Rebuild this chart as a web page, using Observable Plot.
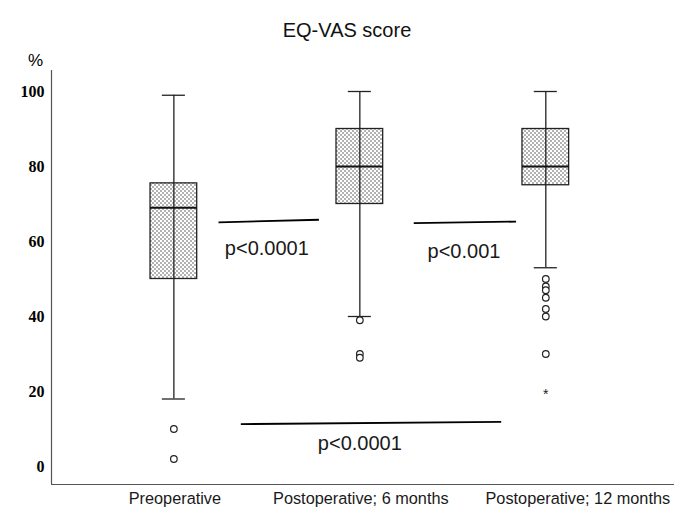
<!DOCTYPE html>
<html><head><meta charset="utf-8">
<script src="https://cdn.jsdelivr.net/npm/d3@7"></script>
<script src="https://cdn.jsdelivr.net/npm/@observablehq/plot@0.6"></script>
<style>
body{margin:0;background:#fff;}
#wrap{position:relative;width:674px;height:514px;overflow:hidden;}
#title{position:absolute;left:347px;top:18px;transform:translateX(-50%);font:20px "Liberation Sans",Arial,sans-serif;color:#111;white-space:nowrap;line-height:24px;}
#chart{position:absolute;left:0;top:50px;}
</style></head><body>
<div id="wrap"><div id="title">EQ-VAS score</div><div id="chart"></div></div>
<script>
// ---- data ----
const categories = ["Preoperative", "Postoperative; 6 months", "Postoperative; 12 months"];
const whiskerLow = [18, 40, 53];
const q1 = [50, 70, 75];
const median = [69, 80, 80];
const q3 = [75.5, 90, 90];
const whiskerHigh = [99, 100, 100];
const outliersPre = [10, 2];
const outliers6m = [39, 30, 29];
const outliers12m = [50, 48, 47, 45, 42, 40, 30];
const extremes12m = [20];
const yTicks = [0, 20, 40, 60, 80, 100];
const comparisonFrom = [0.24, 1.29, 0.36];
const comparisonTo = [0.78, 1.84, 1.76];
const comparisonLevelFrom = [65.1, 64.9, 11.3];
const comparisonLevelTo = [65.8, 65.3, 11.9];
const comparisonLabels = ["p<0.0001", "p<0.001", "p<0.0001"];
const comparisonLabelX = [0.5, 1.56, 1.0];
const comparisonLabelY = [58, 57.3, 6];

// ---- derived tables ----
const boxes = categories.map((c, i) => ({i, c, lo: whiskerLow[i], q1: q1[i], med: median[i], q3: q3[i], hi: whiskerHigh[i]}));
const outliers = [
  ...outliersPre.map(v => ({i: 0, v})),
  ...outliers6m.map(v => ({i: 1, v})),
  ...outliers12m.map(v => ({i: 2, v}))
];
const extremes = extremes12m.map(v => ({i: 2, v}));
const comps = comparisonLabels.map((label, k) => ({
  x1: comparisonFrom[k], x2: comparisonTo[k], y1: comparisonLevelFrom[k], y2: comparisonLevelTo[k],
  label, lx: comparisonLabelX[k], ly: comparisonLabelY[k]
}));
const catRows = categories.map((c, i) => ({c, i}));

const BW = 0.1255; // box half width (x units)
const CW = 0.062;  // cap half width
const sans = "Liberation Sans, Arial, sans-serif";
const ink = "#1a1a1a";

const plot = Plot.plot({
  width: 674,
  height: 464,
  marginLeft: 51,
  marginRight: 0,
  marginTop: 20,
  marginBottom: 30,
  x: {domain: [-0.658, 2.692], axis: null},
  y: {domain: [-4.8, 105.6], axis: null},
  style: {background: "white", overflow: "visible"},
  marks: [
    Plot.ruleX([-0.658], {stroke: "#555", strokeWidth: 1.2}),
    Plot.ruleY([-4.8], {stroke: "#555", strokeWidth: 1.2}),
    Plot.text(yTicks, {y: d => d, text: d => String(d), frameAnchor: "left", textAnchor: "end", dx: -7,
      fontFamily: "Liberation Serif, Times New Roman, serif", fontWeight: "bold", fontSize: 16, fill: "#000"}),
    Plot.text(["%"], {frameAnchor: "top-left", textAnchor: "middle", lineAnchor: "middle", dx: -16, dy: -10, fontFamily: sans, fontSize: 17, fill: "#000"}),
    Plot.text(catRows.slice(0, 2), {x: "i", text: "c", frameAnchor: "bottom", dy: 19, dx: 1, fontFamily: sans, fontSize: 16.3, fill: ink}),
    Plot.text(catRows.slice(2), {x: "i", text: "c", frameAnchor: "bottom", dy: 19, dx: 32, fontFamily: sans, fontSize: 16.3, fill: ink}),
    Plot.rect(boxes, {x1: d => d.i - BW, x2: d => d.i + BW, y1: "q1", y2: "q3", fill: "url(#dots)", stroke: "#222", strokeWidth: 1.3}),
    Plot.ruleX(boxes, {x: "i", y1: "lo", y2: "hi", stroke: "#222", strokeWidth: 1.3}),
    Plot.ruleY(boxes, {y: "hi", x1: d => d.i - CW, x2: d => d.i + CW, stroke: "#222", strokeWidth: 1.3}),
    Plot.ruleY(boxes, {y: "lo", x1: d => d.i - CW, x2: d => d.i + CW, stroke: "#222", strokeWidth: 1.3}),
    Plot.ruleY(boxes, {y: "med", x1: d => d.i - BW, x2: d => d.i + BW, stroke: "#111", strokeWidth: 1.8}),
    Plot.dot(outliers, {x: "i", y: "v", r: 3.3, fill: "white", stroke: "#222", strokeWidth: 1.2}),
    Plot.text(extremes, {x: "i", y: "v", text: () => "*", dy: 3, fontFamily: sans, fontSize: 14, fill: "#222"}),
    Plot.link(comps, {x1: "x1", y1: "y1", x2: "x2", y2: "y2", stroke: "#000", strokeWidth: 1.8}),
    Plot.text(comps, {x: "lx", y: "ly", text: "label", fontFamily: sans, fontSize: 20, fill: ink})
  ]
});

d3.select(plot).insert("defs", ":first-child").html(
  '<pattern id="dots" width="4" height="4" patternUnits="userSpaceOnUse">' +
  '<rect width="4" height="4" fill="#fff"/>' +
  '<rect width="2" height="2" fill="#b2b2b2"/>' +
  '<rect x="2" y="2" width="2" height="2" fill="#b2b2b2"/>' +
  '</pattern>'
);

document.getElementById("chart").appendChild(plot);
</script>
</body></html>
